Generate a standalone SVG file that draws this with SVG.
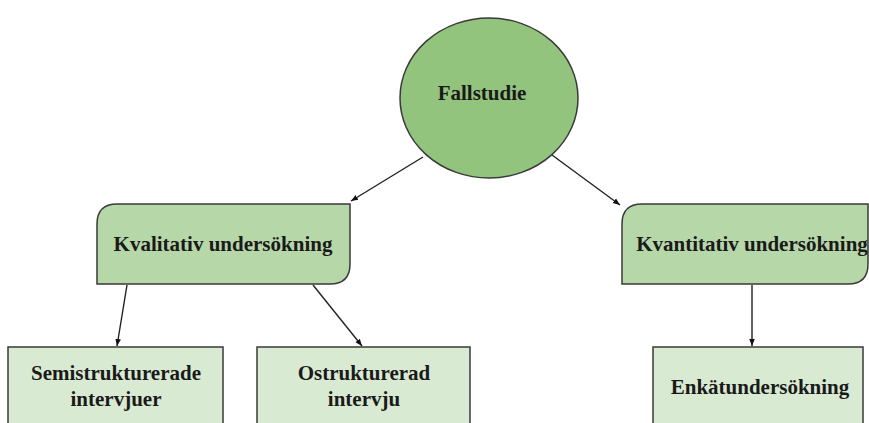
<svg xmlns="http://www.w3.org/2000/svg" width="869" height="423" viewBox="0 0 869 423">
  <style>
    .lbl { font-family: 'Liberation Serif', Tinos, 'Times New Roman', 'DejaVu Serif', serif; font-weight: 700; font-size: 21px; fill: #1a1a1a; text-anchor: middle; }
    .edge { stroke: #222; stroke-width: 1.4; fill: none; marker-end: url(#arrow); }
    .node { stroke: #3a3a3a; stroke-width: 1.5; }
  </style>
  <defs>
    <marker id="arrow" viewBox="0 0 10 10" refX="10" refY="5" markerWidth="7" markerHeight="7" markerUnits="userSpaceOnUse" orient="auto">
      <path d="M0,1 L10,5 L0,9 Z" fill="#111"/>
    </marker>
  </defs>
  <rect width="869" height="423" fill="#ffffff"/>

  <g id="connectors">
    <line class="edge" x1="423" y1="157" x2="351" y2="201"/>
    <line class="edge" x1="552" y1="155" x2="620" y2="205"/>
    <line class="edge" x1="127" y1="285" x2="117" y2="346"/>
    <line class="edge" x1="313" y1="285" x2="362" y2="346"/>
    <line class="edge" x1="752" y1="285" x2="752" y2="346"/>
  </g>

  <g id="fallstudie">
    <ellipse class="node" cx="489" cy="98" rx="89" ry="80" fill="#93c47d"/>
    <text class="lbl" x="482" y="100" font-size="22">Fallstudie</text>
  </g>

  <g id="kvalitativ">
    <path class="node" d="M117,204 H350 V264 Q350,284 330,284 H97 V224 Q97,204 117,204 Z" fill="#b6d7a8"/>
    <text class="lbl" x="223" y="251">Kvalitativ undersökning</text>
  </g>

  <g id="kvantitativ">
    <path class="node" d="M642,204 H868 V264 Q868,284 848,284 H622 V224 Q622,204 642,204 Z" fill="#b6d7a8"/>
    <text class="lbl" x="752" y="251">Kvantitativ undersökning</text>
  </g>

  <g id="semistrukturerade">
    <rect class="node" x="8" y="347" width="215" height="90" fill="#d9ead3"/>
    <text class="lbl" x="116" y="380">Semistrukturerade</text>
    <text class="lbl" x="116" y="406">intervjuer</text>
  </g>

  <g id="ostrukturerad">
    <rect class="node" x="257" y="347" width="213" height="90" fill="#d9ead3"/>
    <text class="lbl" x="364" y="380">Ostrukturerad</text>
    <text class="lbl" x="364" y="406">intervju</text>
  </g>

  <g id="enkat">
    <rect class="node" x="653" y="347" width="210" height="90" fill="#d9ead3"/>
    <text class="lbl" x="760" y="394">Enkätundersökning</text>
  </g>
</svg>
